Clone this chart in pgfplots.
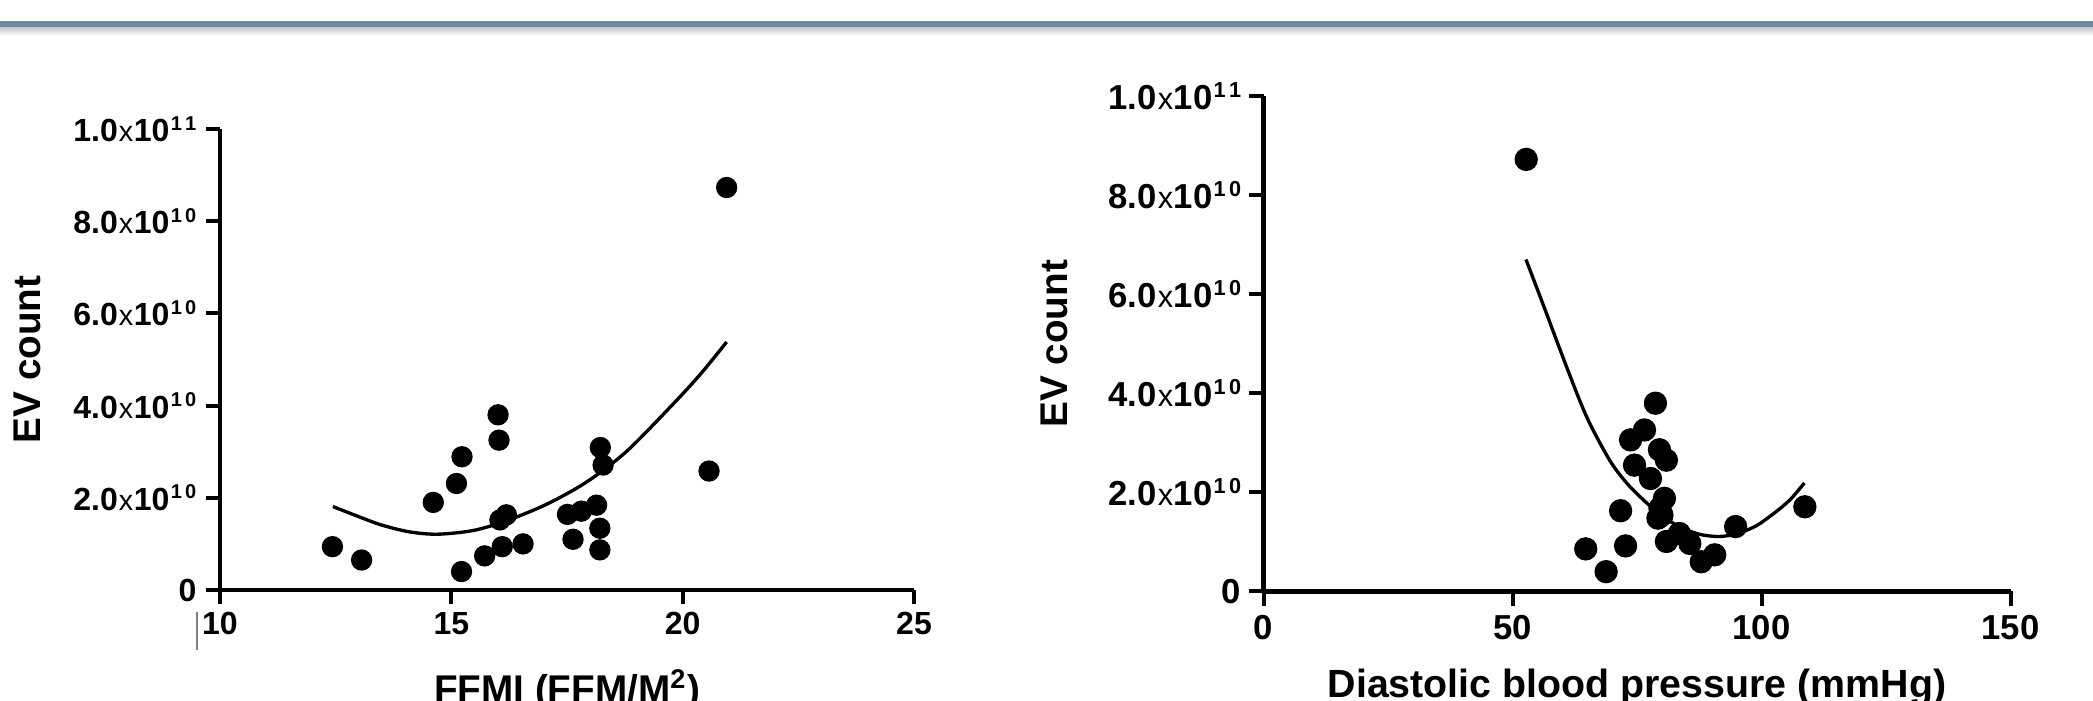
\documentclass[border=0pt]{standalone}
\usepackage{pgfplots}
\pgfplotsset{compat=1.18}
\usepackage{fontspec}
\setmainfont{Liberation Sans}
\definecolor{band}{RGB}{108,137,163}
\newcommand{\sciL}[2]{#1\kern0.3pt{\mdseries\fontsize{8.6}{9}\selectfont x}\kern0.2pt10\kern0.4pt\raisebox{3.4pt}{\fontsize{6.0}{6}\selectfont #2}}
\newcommand{\sciR}[2]{#1\kern0.3pt{\mdseries\fontsize{9.2}{10}\selectfont x}\kern0.2pt10\kern0.4pt\raisebox{3.7pt}{\fontsize{6.5}{7}\selectfont #2}}

\pgfplotstableread{
x y
12.43 9.4
13.06 6.5
14.61 19.0
15.11 23.1
15.23 28.9
15.22 4.0
15.72 7.4
16.01 38.0
16.03 32.5
16.05 15.2
16.19 16.3
16.10 9.4
16.55 10.0
17.51 16.4
17.63 11.0
17.81 17.1
18.14 18.4
18.21 13.4
18.21 8.7
18.22 30.9
18.28 27.1
20.57 25.8
20.95 87.3
}\ffmi

\pgfplotstableread{
x y
12.44 18.1
13.00 15.9
13.49 14.1
14.10 12.6
14.70 12.1
15.47 12.9
16.19 15.0
17.06 18.6
17.92 23.4
18.78 30.0
19.79 40.3
20.40 47.0
20.95 53.8
}\ffmifit

\pgfplotstableread{
x y
52.75 87.2
64.7 8.6
68.8 4.0
71.7 16.3
72.7 9.2
73.7 30.6
74.5 25.5
76.5 32.6
77.7 22.8
78.7 38.0
79.5 28.6
80.9 26.5
80.5 18.8
79.6 16.8
80.0 15.4
79.2 14.8
80.9 10.1
83.5 11.7
85.6 9.7
87.9 6.0
90.6 7.4
94.8 13.1
108.7 17.1
}\dbp

\pgfplotstableread{
x y
52.7 67.0
56.0 58.3
61.1 44.7
65.0 35.0
69.5 26.5
73.0 21.8
76.9 17.9
80.0 15.3
82.9 13.4
85.5 12.2
88.2 11.4
91.5 11.1
94.9 11.6
99.0 13.3
103.3 16.4
106.0 18.8
108.6 21.9
}\dbpfit

\begin{document}
\begin{tikzpicture}
\useasboundingbox (0pt,0pt) rectangle (627.9pt,210.3pt);
\shade[top color=gray!50, bottom color=white] (0pt,199.6pt) rectangle (627.9pt,202.3pt);
\fill[band] (0pt,202.2pt) rectangle (627.9pt,204.0pt);

\begin{axis}[
  at={(66pt,33.3pt)}, anchor=south west, scale only axis,
  width=208.2pt, height=138.3pt,
  xmin=10, xmax=25, ymin=0, ymax=100,
  axis lines=left, axis line style={-, line width=1.3pt},
  xtick={10,15,20,25},
  xticklabels={{\llap{\textcolor{gray}{\rule[-4.5pt]{0.6pt}{11.4pt}}\hspace{1.3pt}}10},15,20,25},
  ytick={0,20,40,60,80,100},
  yticklabels={0,\sciL{2.0}{1\kern1pt0},\sciL{4.0}{1\kern1pt0},\sciL{6.0}{1\kern1pt0},\sciL{8.0}{1\kern1pt0},\sciL{1.0}{1\kern1pt1}},
  tick align=outside, major tick length=4.2pt,
  tick style={black, line width=1.2pt},
  tick label style={font=\fontsize{9.6}{10}\selectfont\bfseries},
  xticklabel style={inner sep=0pt, yshift=-2.2pt},
  yticklabel style={inner sep=0pt, xshift=-2.7pt},
  every axis y label/.style={at={(rel axis cs:-0.278,0.5)}, rotate=90, anchor=center, font=\fontsize{11.6}{12}\selectfont\bfseries},
  every axis x label/.style={at={(rel axis cs:0.5,-0.245)}, anchor=base, font=\fontsize{11.6}{12}\selectfont\bfseries},
  ylabel={EV count},
  xlabel={FFMI (FFM/M\textsuperscript{2})},
  clip=false,
]
\addplot[only marks, mark=*, mark size=3pt, black] table[x=x,y=y]{\ffmi};
\addplot[smooth, black, line width=1pt] table[x=x,y=y]{\ffmifit};
\end{axis}

\begin{axis}[
  at={(379.05pt,32.85pt)}, anchor=south west, scale only axis,
  width=224.1pt, height=148.65pt,
  xmin=0, xmax=150, ymin=0, ymax=100,
  axis lines=left, axis line style={-, line width=1.4pt},
  xtick={0,50,100,150},
  ytick={0,20,40,60,80,100},
  yticklabels={0,\sciR{2.0}{1\kern1pt0},\sciR{4.0}{1\kern1pt0},\sciR{6.0}{1\kern1pt0},\sciR{8.0}{1\kern1pt0},\sciR{1.0}{1\kern1pt1}},
  tick align=outside, major tick length=4.4pt,
  tick style={black, line width=1.2pt},
  tick label style={font=\fontsize{10.4}{11}\selectfont\bfseries},
  xticklabel style={inner sep=0pt, yshift=-2.4pt},
  yticklabel style={inner sep=0pt, xshift=-2.1pt},
  every axis y label/.style={at={(rel axis cs:-0.2805,0.5)}, rotate=90, anchor=center, font=\fontsize{11.6}{12}\selectfont\bfseries},
  every axis x label/.style={at={(rel axis cs:0.5,-0.213)}, anchor=base, font=\fontsize{11.8}{12}\selectfont\bfseries},
  ylabel={EV count},
  xlabel={Diastolic blood pressure (mmHg)},
  xticklabel={\pgfmathprintnumber[assume math mode=true]{\tick}},
  clip=false,
]
\addplot[only marks, mark=*, mark size=3.3pt, black] table[x=x,y=y]{\dbp};
\addplot[smooth, black, line width=1pt] table[x=x,y=y]{\dbpfit};
\end{axis}
\end{tikzpicture}
\end{document}
